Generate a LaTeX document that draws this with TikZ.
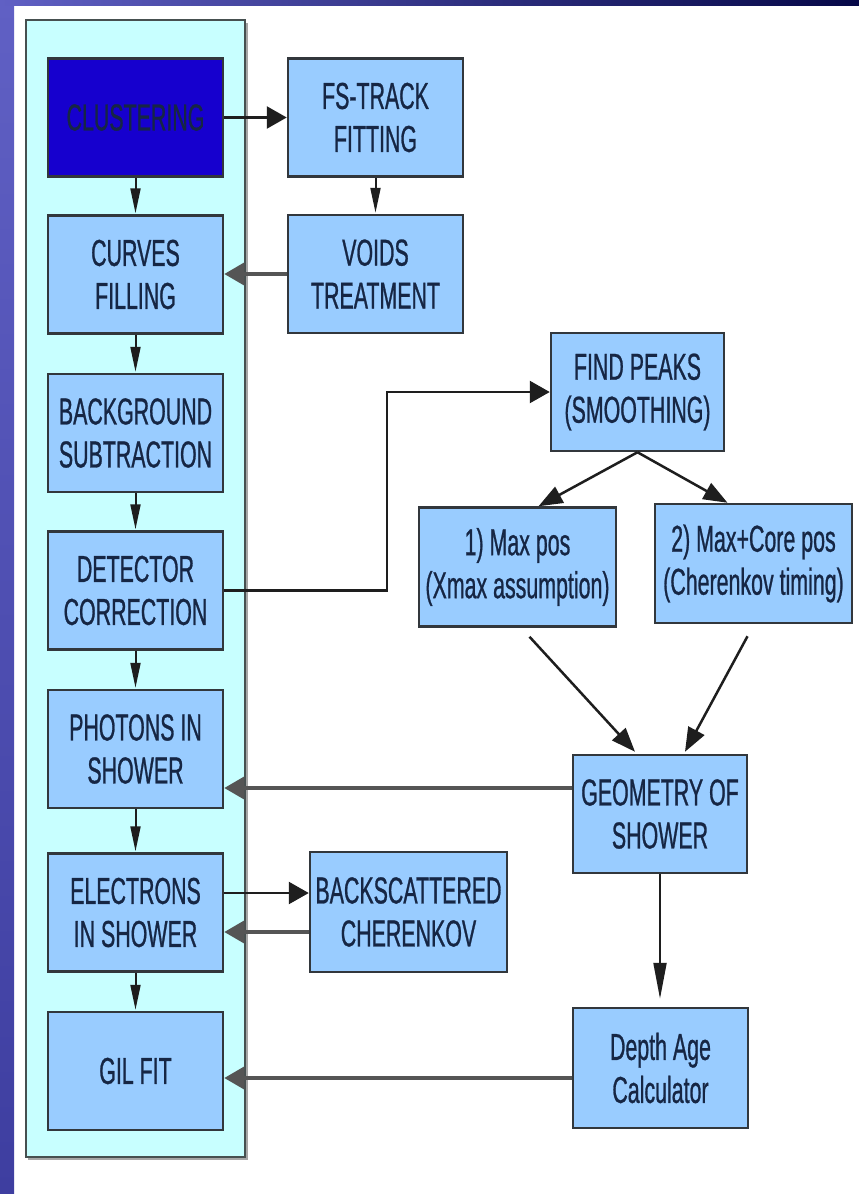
\documentclass[tikz,border=0pt]{standalone}
\usepackage{fontspec}
\newfontfamily\boxfont[FakeStretch=0.57,FakeBold=0.7]{Liberation Sans}
\usetikzlibrary{arrows.meta,calc}

\definecolor{slideA}{RGB}{96,96,196}
\definecolor{slideB}{RGB}{140,140,226}
\definecolor{slideC}{RGB}{62,62,160}
\definecolor{bandR}{RGB}{6,8,72}
\definecolor{panel}{RGB}{200,255,255}
\definecolor{panelEdge}{RGB}{70,80,80}
\definecolor{boxfill}{RGB}{153,204,255}
\definecolor{boxedge}{RGB}{50,55,60}
\definecolor{deepblue}{RGB}{22,0,206}
\definecolor{txt}{RGB}{22,38,68}
\definecolor{ink}{RGB}{30,30,30}
\definecolor{inkgray}{RGB}{85,85,85}

\tikzset{
  stage/.style={rectangle, draw=boxedge, line width=2.5pt, fill=boxfill,
    text=txt, align=center, inner sep=0pt,
    font=\boxfont\fontsize{37.5}{43}\selectfont},
  colbox/.style={stage, minimum width=175pt, minimum height=118pt},
  widebox/.style={stage, minimum width=197pt, minimum height=119pt},
  flow/.style={draw=ink, line width=2.5pt, -{Triangle[length=20pt,width=22pt]}},
  back/.style={draw=inkgray, line width=4pt, -{Triangle[length=20pt,width=22pt]}},
  down/.style={draw=ink, line width=2pt, -{Triangle[length=25pt,width=10pt]}, shorten >=1pt},
  slant/.style={draw=ink, line width=2.5pt, -{Triangle[length=24pt,width=18pt]}},
  drop/.style={draw=ink, line width=2pt, -{Triangle[length=36pt,width=13pt]}}
}

\begin{document}
\begin{tikzpicture}[x=1pt,y=-1pt]
\useasboundingbox (0,0) rectangle (859,1194);
\fill[white] (0,0) rectangle (859,1194);

% slide edges
\shade[top color=slideA, middle color=slideB, bottom color=slideC] (0,0) rectangle (14,1194);
\shade[left color=slideA, right color=bandR] (0,0) rectangle (859,5);

% processing column panel
\fill[gray!70] (28,23) rectangle (248,1160);
\draw[panelEdge, line width=2pt, fill=panel] (26,20) rectangle (245,1157);

% left column
\node[colbox, fill=deepblue] (clu) at (135.5,117.5) {CLUSTERING};
\node[colbox] (cur) at (135.5,274.5) {CURVES\\FILLING};
\node[colbox] (bkg) at (135.5,433) {BACKGROUND\\SUBTRACTION};
\node[colbox] (det) at (135.5,590.5) {DETECTOR\\CORRECTION};
\node[colbox] (pho) at (135.5,749) {PHOTONS IN\\SHOWER};
\node[colbox] (ele) at (135.5,912.5) {ELECTRONS\\IN SHOWER};
\node[colbox] (gil) at (135.5,1071) {GIL FIT};

% right-hand stages
\node[colbox] (fst) at (375.5,117.5) {FS-TRACK\\FITTING};
\node[colbox] (voi) at (375.5,274) {VOIDS\\TREATMENT};
\node[colbox, minimum width=173pt] (fpk) at (637.5,392) {FIND PEAKS\\(SMOOTHING)};
\node[widebox] (mx1) at (517.5,567) {1) Max pos\\(Xmax assumption)};
\node[widebox] (mx2) at (753.5,563.5) {2) Max+Core pos\\(Cherenkov timing)};
\node[colbox, minimum width=174pt] (geo) at (660,814) {GEOMETRY OF\\SHOWER};
\node[widebox, minimum height=120pt] (bsc) at (408.5,912) {BACKSCATTERED\\CHERENKOV};
\node[colbox, minimum height=120pt] (dac) at (660.5,1068) {Depth Age\\Calculator};

% column flow
\draw[down] (clu) -- (cur);
\draw[down] (cur) -- (bkg);
\draw[down] (bkg) -- (det);
\draw[down] (det) -- (pho);
\draw[down] (pho) -- (ele);
\draw[down] (ele) -- (gil);

% track fitting branch
\draw[flow] (clu) -- (fst);
\draw[down] (fst) -- (voi);
\draw[back] (voi.west) -- (voi.west -| cur.east);

% peak finding branch
\coordinate (elbow) at (387,392);
\draw[flow] (det.east) -| (elbow) -- (fpk.west);
\draw[slant] (fpk.south) -- ($(mx1.north)+(21,0)$);
\draw[slant] (fpk.south) -- ($(mx2.north)+(-26,0)$);
\draw[slant] ($(mx1.south)+(12,9)$) -- ($(geo.north)+(-25,-2)$);
\draw[slant] ($(mx2.south)+(-6,12)$) -- ($(geo.north)+(25,-2)$);
\draw[back] ($(geo.west)+(0,-26)$) coordinate (g1) -- (g1 -| pho.east);

% backscattered light loop
\draw[flow] ($(ele.east)+(0,-19.5)$) coordinate (e1) -- (e1 -| bsc.west);
\draw[back] ($(bsc.west)+(0,20)$) coordinate (b1) -- (b1 -| ele.east);

% depth and age
\draw[drop, shorten >=8pt] (geo.south) -- (geo.south |- dac.north);
\draw[back] ($(dac.west)+(0,10)$) coordinate (d1) -- (d1 -| gil.east);
\end{tikzpicture}
\end{document}
